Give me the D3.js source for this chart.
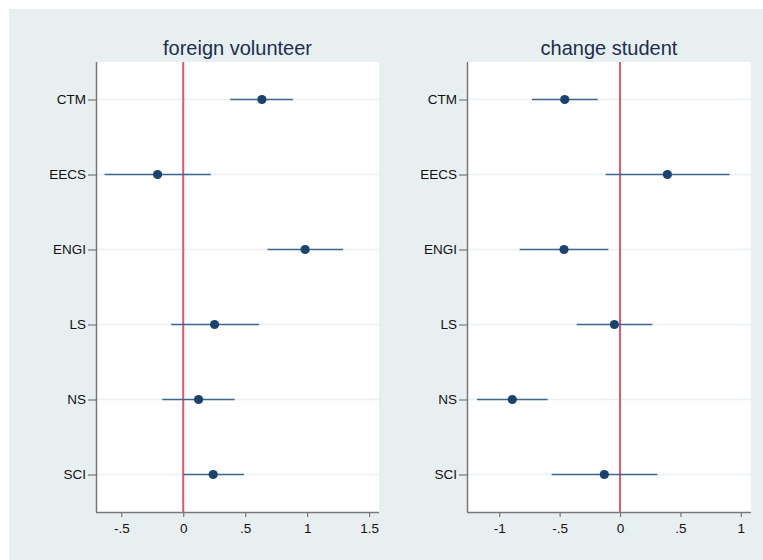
<!DOCTYPE html>
<html>
<head>
<meta charset="utf-8">
<script src="https://cdn.jsdelivr.net/npm/d3@7/dist/d3.min.js"></script>
<style>
  html, body { margin: 0; padding: 0; background: #ffffff; }
  svg { display: block; }
  text { font-family: "Liberation Sans", Arial, Helvetica, sans-serif; }
</style>
</head>
<body>
<svg id="chart" width="763" height="560"></svg>
<script>
// Coefficient estimates with 95% confidence intervals by field
const categories = ["CTM", "EECS", "ENGI", "LS", "NS", "SCI"];

const volunteerEst  = [0.635, -0.207, 0.984, 0.253, 0.124, 0.242];
const volunteerLow  = [0.379, -0.635, 0.680, -0.097, -0.169, 0.000];
const volunteerHigh = [0.885, 0.223, 1.290, 0.613, 0.414, 0.490];

const studentEst  = [-0.458, 0.392, -0.464, -0.047, -0.892, -0.130];
const studentLow  = [-0.729, -0.119, -0.831, -0.359, -1.184, -0.566];
const studentHigh = [-0.185, 0.907, -0.097, 0.267, -0.599, 0.309];

const volunteerTicks = [-0.5, 0, 0.5, 1, 1.5];
const studentTicks = [-1, -0.5, 0, 0.5, 1];

const panels = [
  { title: "foreign volunteer", est: volunteerEst, low: volunteerLow, high: volunteerHigh,
    ticks: volunteerTicks, domain: [-0.704, 1.58], left: 96, right: 379 },
  { title: "change student", est: studentEst, low: studentLow, high: studentHigh,
    ticks: studentTicks, domain: [-1.267, 1.084], left: 467, right: 751 }
];

const svg = d3.select("#chart");
const plotTop = 62, plotBottom = 512;

// outer background
svg.append("rect").attr("x", 9).attr("y", 9).attr("width", 754).attr("height", 551)
  .attr("fill", "#e8eff0");

const fmt = v => {
  if (v === 0) return "0";
  let s = String(v);
  s = s.replace(/^0\./, ".").replace(/^-0\./, "-.");
  return s;
};

const y = d3.scalePoint().domain(categories).range([plotTop, plotBottom]).padding(0.5);

panels.forEach(p => {
  const x = d3.scaleLinear().domain(p.domain).range([p.left, p.right]);
  const g = svg.append("g");

  // plot region
  g.append("rect").attr("x", p.left).attr("y", plotTop)
    .attr("width", p.right - p.left).attr("height", plotBottom - plotTop).attr("fill", "#ffffff");

  // horizontal grid lines
  g.selectAll("line.grid").data(categories).join("line")
    .attr("class", "grid")
    .attr("x1", p.left).attr("x2", p.right)
    .attr("y1", d => y(d)).attr("y2", d => y(d))
    .attr("stroke", "#eaf1f3").attr("stroke-width", 1.5);

  // reference line at zero
  g.append("line")
    .attr("x1", x(0)).attr("x2", x(0)).attr("y1", plotTop).attr("y2", plotBottom)
    .attr("stroke", "#d85a6c").attr("stroke-width", 2);

  // confidence intervals
  g.selectAll("line.ci").data(categories).join("line")
    .attr("class", "ci")
    .attr("x1", (d, i) => x(p.low[i])).attr("x2", (d, i) => x(p.high[i]))
    .attr("y1", d => y(d)).attr("y2", d => y(d))
    .attr("stroke", "#3f6690").attr("stroke-width", 1.6);

  // point estimates
  g.selectAll("circle.pt").data(categories).join("circle")
    .attr("class", "pt")
    .attr("cx", (d, i) => x(p.est[i])).attr("cy", d => y(d)).attr("r", 4.6)
    .attr("fill", "#1a446f");

  // y axis
  const ya = g.append("g").attr("transform", `translate(${p.left},0)`)
    .call(d3.axisLeft(y).tickSize(8).tickPadding(2));
  ya.select(".domain").attr("d", `M0.5,${plotTop}V${plotBottom}`).attr("stroke", "#777777").attr("stroke-width", 1.5);
  ya.selectAll(".tick line").attr("stroke", "#777777").attr("stroke-width", 1.2);
  ya.selectAll("text").attr("font-size", 13.5).attr("fill", "#111111")
    .style("font-family", "'Liberation Sans', Arial, sans-serif");

  // x axis
  const xa = g.append("g").attr("transform", `translate(0,${plotBottom})`)
    .call(d3.axisBottom(x).tickValues(p.ticks).tickFormat(fmt).tickSize(5).tickPadding(6.5));
  xa.select(".domain").attr("d", `M${p.left},0.5H${p.right}`).attr("stroke", "#777777").attr("stroke-width", 1.5);
  xa.selectAll(".tick line").attr("stroke", "#777777").attr("stroke-width", 1.2);
  xa.selectAll("text").attr("font-size", 13.5).attr("fill", "#111111")
    .style("font-family", "'Liberation Sans', Arial, sans-serif");

  // panel title
  g.append("text")
    .attr("x", (p.left + p.right) / 2).attr("y", 55)
    .attr("text-anchor", "middle").attr("font-size", 20).attr("fill", "#1c2e4f")
    .text(p.title);
});
</script>
</body>
</html>
